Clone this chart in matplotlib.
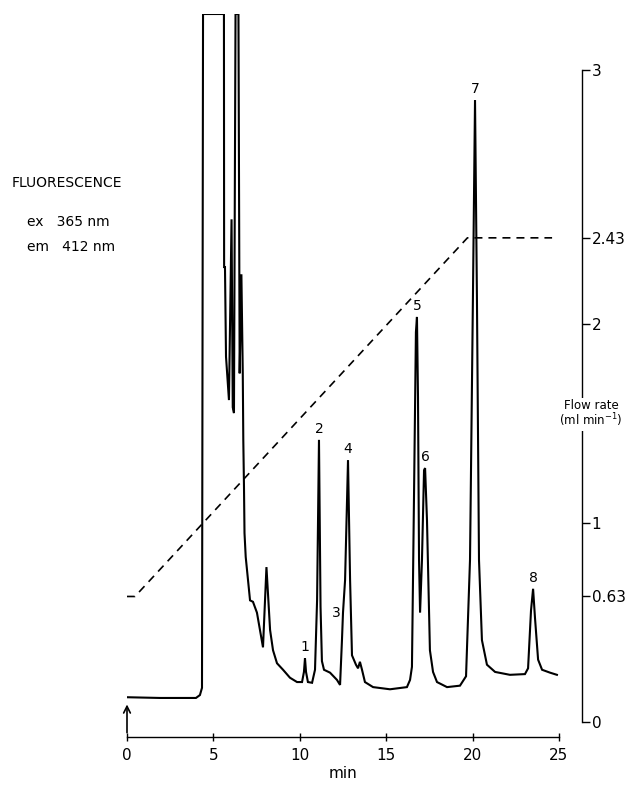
import numpy as np
import matplotlib
matplotlib.use("Agg")
import matplotlib.pyplot as plt

plt.rcParams['font.family'] = ['DejaVu Sans']

# chromatogram trace (min, relative fluorescence)
time_min = [0.00, 1.91, 3.99, 4.22, 4.34, 4.40, 5.61, 5.62, 5.67, 5.73, 5.90, 6.05,
            6.12, 6.19, 6.28, 6.45, 6.52, 6.62, 6.70, 6.73, 6.77, 6.80, 6.87, 7.12,
            7.29, 7.52, 7.87, 8.07, 8.28, 8.45, 8.68, 9.03, 9.43, 9.84, 10.13, 10.24,
            10.30, 10.36, 10.47, 10.71, 10.88, 11.00, 11.11, 11.20, 11.28, 11.40, 11.75,
            12.15, 12.33, 12.44, 12.50, 12.62, 12.79, 12.91, 13.02, 13.25, 13.37, 13.48,
            13.60, 13.77, 14.24, 15.22, 16.20, 16.38, 16.49, 16.61, 16.72, 16.78, 16.84,
            16.90, 16.96, 17.07, 17.19, 17.25, 17.36, 17.53, 17.71, 17.94, 18.52, 19.27,
            19.62, 19.85, 20.02, 20.14, 20.25, 20.37, 20.54, 20.83, 21.30, 22.16, 23.03,
            23.21, 23.38, 23.50, 23.61, 23.79, 24.02, 24.48, 24.88]
signal = [5.5, 5.4, 5.4, 5.8, 6.8, 100, 100, 65.0, 65.0, 52.6, 46.6, 71.6,
          45.6, 44.8, 100, 100, 50.3, 64.0, 50.3, 41.1, 34.6, 28.2, 24.9, 18.9,
          18.7, 17.2, 12.4, 23.5, 14.8, 12.0, 10.2, 9.3, 8.2, 7.6, 7.6, 9.0,
          10.9, 9.0, 7.6, 7.5, 9.3, 18.9, 41.1, 18.0, 10.5, 9.3, 8.9,
          7.9, 7.2, 13.4, 17.2, 21.7, 38.3, 21.7, 11.3, 10.0, 9.5, 10.4,
          9.3, 7.6, 6.9, 6.6, 6.9, 7.9, 9.7, 33.5, 56.0, 58.1, 47.0,
          24.5, 17.2, 24.5, 36.9, 37.2, 30.0, 12.0, 9.0, 7.6, 6.9, 7.1,
          8.4, 24.5, 61.0, 88.1, 61.0, 24.5, 13.4, 10.0, 9.0, 8.6, 8.7,
          9.5, 17.5, 20.5, 16.5, 10.7, 9.3, 8.9, 8.6]

# flow-rate programme (ml/min)
flow_time = [0.0, 0.46, 19.7, 24.6]
flow_rate = [0.63, 0.63, 2.43, 2.43]
flow_ticks = [0, 0.63, 1, 2, 2.43, 3]
flow_ticklabels = ['0', '0.63', '1', '2', '2.43', '3']

# numbered peaks
peak_labels = ['1', '2', '3', '4', '5', '6', '7', '8']
peak_time = [10.30, 11.11, 12.50, 12.79, 16.78, 17.25, 20.14, 23.50]
peak_height = [10.9, 41.1, 17.2, 38.3, 58.1, 37.2, 88.1, 20.5]

W, H = 630, 788
fig = plt.figure(figsize=(W / 100, H / 100), dpi=100)

def box(x0, y_top, x1, y_bot):
    return [x0 / W, 1 - y_bot / H, (x1 - x0) / W, (y_bot - y_top) / H]

ax = fig.add_axes(box(127, 14, 559, 737))
ax.plot(time_min, signal, color='black', lw=1.5, solid_joinstyle='miter')
ax.set_xlim(0, 25)
ax.set_ylim(0, 100)
for s in ['top', 'left', 'right']:
    ax.spines[s].set_visible(False)
ax.spines['bottom'].set_linewidth(1.0)
ax.set_yticks([])
ax.set_xticks([0, 5, 10, 15, 20, 25])
ax.tick_params(axis='x', direction='inout', length=6, width=1, labelsize=11, pad=5)
ax.set_xlabel('min', fontsize=11, labelpad=2)

for lab, t, v in zip(peak_labels, peak_time, peak_height):
    if lab == '3':
        ax.annotate(lab, (t, v), xytext=(-5, 0), textcoords='offset points',
                    ha='center', va='center', fontsize=10)
    else:
        ax.annotate(lab, (t, v), xytext=(0, 3), textcoords='offset points',
                    ha='center', va='bottom', fontsize=10)

# injection arrow
ax.annotate('', xy=(0, 0.045), xytext=(0, 0.006), xycoords=('data', 'axes fraction'),
            arrowprops=dict(arrowstyle='->', lw=1.2, color='black',
                            shrinkA=0, shrinkB=0, mutation_scale=12))

# flow rate axis (upper part of the scale is stretched in the original)
def fwd(y):
    return np.interp(y, [0, 2.43, 3], [0, 2.43, 3.2724])

def inv(y):
    return np.interp(y, [0, 2.43, 3.2724], [0, 2.43, 3])

ax2 = fig.add_axes(box(127, 70, 559, 722), facecolor='none')
ax2.set_yscale('function', functions=(fwd, inv))
ax2.plot(flow_time, flow_rate, color='black', lw=1.2, linestyle=(0, (4.8, 3.6)))
ax2.set_xlim(0, 25)
ax2.set_ylim(0, 3)
for s in ['top', 'left', 'bottom']:
    ax2.spines[s].set_visible(False)
ax2.spines['right'].set_position(('outward', 16.6))
ax2.spines['right'].set_linewidth(1.0)
ax2.set_xticks([])
ax2.yaxis.tick_right()
ax2.set_yticks(flow_ticks)
ax2.set_yticklabels(flow_ticklabels)
ax2.yaxis.set_minor_locator(matplotlib.ticker.NullLocator())
ax2.tick_params(axis='y', direction='out', length=6, width=1, labelsize=11, pad=1)

fig.text(591 / W, 1 - 414 / H, 'Flow rate\n(ml min$^{-1}$)', ha='center', va='center',
         fontsize=8.5, linespacing=1.0,
         bbox=dict(facecolor='white', edgecolor='none', pad=1))

fig.text(12 / W, 1 - 183 / H, 'FLUORESCENCE', fontsize=10, va='center')
fig.text(27 / W, 1 - 222 / H, 'ex   365 nm', fontsize=10, va='center')
fig.text(27 / W, 1 - 247 / H, 'em   412 nm', fontsize=10, va='center')

fig.savefig('out.png', dpi=100)
